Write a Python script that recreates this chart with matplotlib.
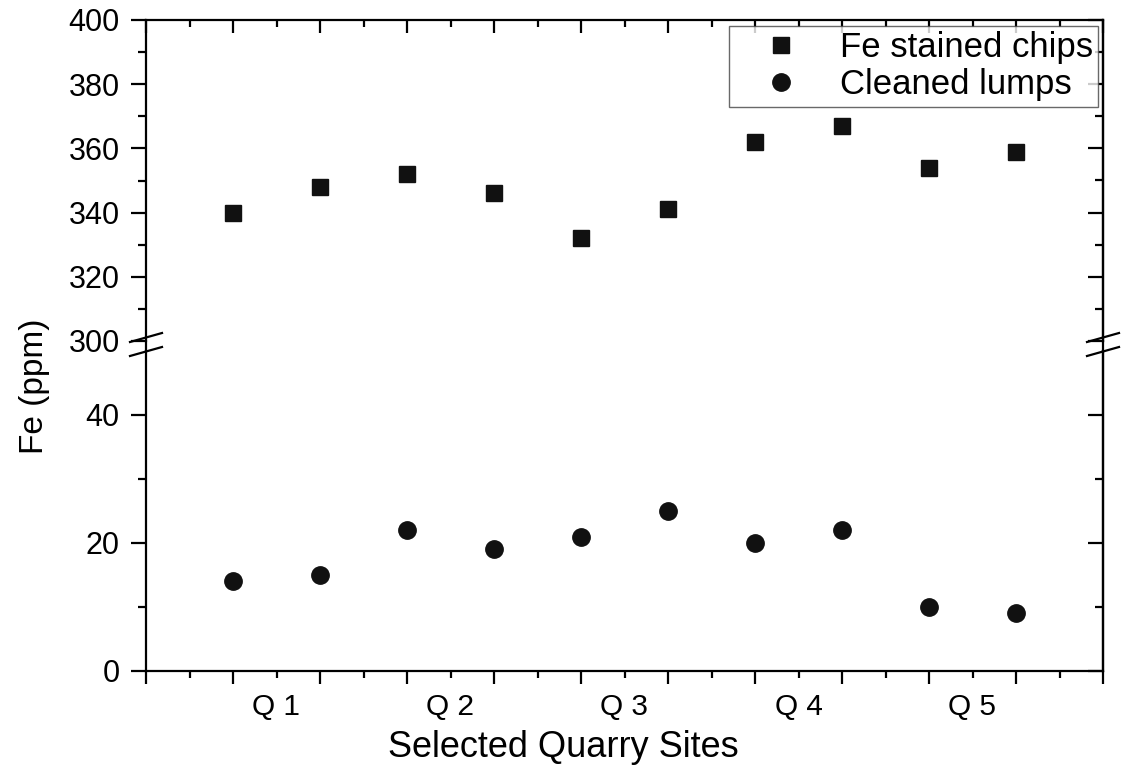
import matplotlib
matplotlib.use("Agg")
import matplotlib.pyplot as plt
from matplotlib.lines import Line2D
from matplotlib.ticker import MultipleLocator, FixedLocator, FixedFormatter

plt.rcParams['font.family'] = ['Liberation Sans', 'DejaVu Sans']

# Data
sample_pos = [1, 2, 3, 4, 5, 6, 7, 8, 9, 10]
fe_stained_chips = [340, 348, 352, 346, 332, 341, 362, 367, 354, 359]
cleaned_lumps = [14, 15, 22, 19, 21, 25, 20, 22, 10, 9]
site_labels = ['Q 1', 'Q 2', 'Q 3', 'Q 4', 'Q 5']
site_label_pos = [1.5, 3.5, 5.5, 7.5, 9.5]

W, H = 1127, 765
fig = plt.figure(figsize=(W / 100, H / 100), dpi=100)

L, R = 146 / W, 1103 / W
top_y0, top_y1 = 20, 341      # pixel rows of top axes
bot_y0, bot_y1 = 351, 671     # pixel rows of bottom axes

ax_top = fig.add_axes([L, 1 - top_y1 / H, R - L, (top_y1 - top_y0) / H])
ax_bot = fig.add_axes([L, 1 - bot_y1 / H, R - L, (bot_y1 - bot_y0) / H])

lw = 1.6
for ax in (ax_top, ax_bot):
    ax.set_xlim(0, 11)
    for s in ax.spines.values():
        s.set_linewidth(lw)

ax_top.set_ylim(300, 400)
ax_bot.set_ylim(0, 50)

ax_top.spines['bottom'].set_visible(False)
ax_bot.spines['top'].set_visible(False)

# Markers
ax_top.plot(sample_pos, fe_stained_chips, linestyle='none', marker='s',
            markersize=11.5, color='#111111', label='Fe stained chips')
ax_bot.plot(sample_pos, cleaned_lumps, linestyle='none', marker='o',
            markersize=12.5, color='#111111', label='Cleaned lumps')

# Y ticks
ax_top.yaxis.set_major_locator(MultipleLocator(20))
ax_top.yaxis.set_minor_locator(MultipleLocator(10))
ax_bot.yaxis.set_major_locator(FixedLocator([0, 20, 40]))
ax_bot.yaxis.set_minor_locator(FixedLocator([10, 30]))

# X ticks
ax_top.xaxis.set_major_locator(MultipleLocator(1))
ax_top.xaxis.set_minor_locator(MultipleLocator(0.5))
ax_bot.xaxis.set_major_locator(MultipleLocator(1))
minor_pos = [i + 0.5 for i in range(11)]
ax_bot.xaxis.set_minor_locator(FixedLocator(minor_pos))
minor_lbls = [site_labels[site_label_pos.index(p)] if p in site_label_pos else '' for p in minor_pos]
ax_bot.xaxis.set_minor_formatter(FixedFormatter(minor_lbls))
ax_bot.xaxis.set_major_formatter(FixedFormatter([''] * 20))

fs_ytick = 22
fs_xtick = 21.5
# top axes: x ticks at top pointing in, no labels
ax_top.tick_params(axis='x', which='both', bottom=False, top=True, direction='in',
                   labelbottom=False, labeltop=False, width=lw)
ax_top.tick_params(axis='x', which='major', length=9.5)
ax_top.tick_params(axis='x', which='minor', length=5)
# bottom axes: x ticks at bottom pointing out
ax_bot.tick_params(axis='x', which='both', bottom=True, top=False, direction='out', width=lw,
                   labelsize=fs_xtick)
ax_bot.tick_params(axis='x', which='major', length=9.5)
ax_bot.tick_params(axis='x', which='minor', length=5, pad=10.5)

for ax in (ax_top, ax_bot):
    ax.tick_params(axis='y', which='both', left=True, right=False, direction='out',
                   width=lw, labelsize=fs_ytick, pad=8)
    ax.tick_params(axis='y', which='major', length=11)
    ax.tick_params(axis='y', which='minor', length=6)
    # inward right ticks
    sec = ax.secondary_yaxis('right')
    sec.tick_params(axis='y', which='both', direction='in', width=lw, labelright=False)
    sec.tick_params(axis='y', which='major', length=11)
    sec.tick_params(axis='y', which='minor', length=6)
    sec.spines['right'].set_linewidth(lw)
    sec.yaxis.set_major_locator(ax.yaxis.get_major_locator())
    sec.yaxis.set_minor_locator(ax.yaxis.get_minor_locator())

# Connect spines across the break gap and draw break marks
for xs in (146, 1103):
    fig.add_artist(Line2D([xs / W, xs / W], [1 - top_y1 / H, 1 - bot_y0 / H],
                          color='black', lw=lw))
for (x0, x1) in ((130, 162), (1087, 1119)):
    for (ya, yb) in ((342, 333), (356, 347)):
        fig.add_artist(Line2D([x0 / W, x1 / W], [1 - ya / H, 1 - yb / H],
                              color='black', lw=lw))

# Axis labels
fig.text(43 / W, 1 - 386 / H, 'Fe (ppm)', rotation=90, rotation_mode='anchor',
         ha='center', va='baseline', fontsize=24)
fig.text(563 / W, 1 - 757 / H, 'Selected Quarry Sites', ha='center', va='baseline',
         fontsize=26)

# Legend
h1, l1 = ax_top.get_legend_handles_labels()
h2, l2 = ax_bot.get_legend_handles_labels()
leg = ax_top.legend(h1 + h2, l1 + l2, loc='upper right',
                    bbox_to_anchor=(1098 / W, 1 - 26 / H), bbox_transform=fig.transFigure,
                    fontsize=25, frameon=True, fancybox=False, borderaxespad=0,
                    handlelength=2.7, handletextpad=0.35, labelspacing=0.12,
                    borderpad=0.15, markerscale=1.0)
leg.get_frame().set_edgecolor('#444444')
leg.get_frame().set_linewidth(1.0)

fig.savefig('out.png', dpi=100)
